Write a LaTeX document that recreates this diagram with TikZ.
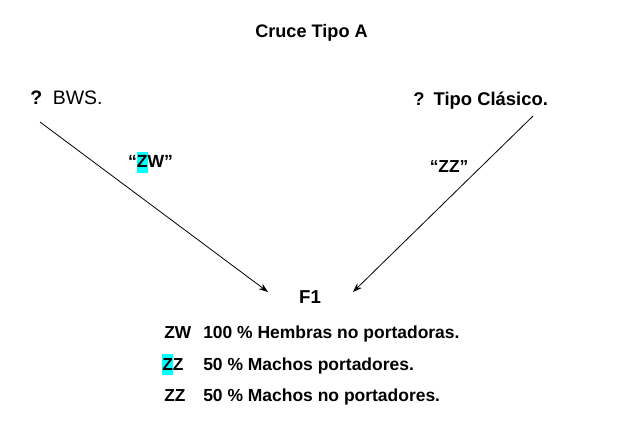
\documentclass[tikz,border=0pt]{standalone}
\usepackage{fontspec}
\setmainfont{Liberation Sans}
\usetikzlibrary{arrows.meta}
\definecolor{hl}{RGB}{0,255,255}
\newcommand\hlbox[1]{{\setlength\fboxsep{0pt}\colorbox{hl}{\rule[-0.28em]{0pt}{1.18em}#1}}}
\tikzset{
  txt/.style={inner sep=0pt, anchor=base west},
  ctr/.style={inner sep=0pt, anchor=base},
}
\begin{document}
\begin{tikzpicture}[x=0.75pt,y=-0.75pt]
  \useasboundingbox (0,0) rectangle (623,438);
  \draw
    (311.5,38) node[ctr, font=\bfseries\fontsize{13.6}{15}\selectfont] (title){Cruce Tipo A}
    (30,105) node[txt, font=\fontsize{14.6}{16}\selectfont] (bws){\textbf{?}\hspace{0.55em}BWS.}
    (413,106) node[txt, font=\bfseries\fontsize{13.8}{16}\selectfont] (clasico){?\hspace{0.5em}Tipo Clásico.}
    (150.5,168) node[ctr, font=\bfseries\fontsize{13.2}{15}\selectfont] (zwlbl){“\hlbox{Z}W”}
    (449,172) node[ctr, font=\bfseries\fontsize{13}{15}\selectfont] (zzlbl){“ZZ”}
    (310,303) node[ctr, font=\bfseries\fontsize{14}{16}\selectfont] (f1){F1}
    (164,338) node[txt, font=\bfseries\fontsize{13}{15}\selectfont] (key1){ZW}
    (203,338) node[txt, font=\bfseries\fontsize{13.1}{15}\selectfont] (row1){100 \% Hembras no portadoras.}
    (162,370) node[txt, font=\bfseries\fontsize{13}{15}\selectfont] (key2){\hlbox{Z}Z}
    (203,370) node[txt, font=\bfseries\fontsize{13.1}{15}\selectfont] (row2){50 \% Machos portadores.}
    (164,401) node[txt, font=\bfseries\fontsize{13}{15}\selectfont] (key3){ZZ}
    (203,401) node[txt, font=\bfseries\fontsize{13.1}{15}\selectfont] (row3){50 \% Machos no portadores.};
  \coordinate (bwsfrom) at (40,122);
  \coordinate (clasicofrom) at (533,116);
  \coordinate (f1left) at (268,292);
  \coordinate (f1right) at (353,292);
  \begin{scope}[-{Stealth[length=7pt,width=5pt]}, line width=0.6pt]
    \draw (bwsfrom) to (f1left);
    \draw (clasicofrom) to (f1right);
  \end{scope}
\end{tikzpicture}
\end{document}
